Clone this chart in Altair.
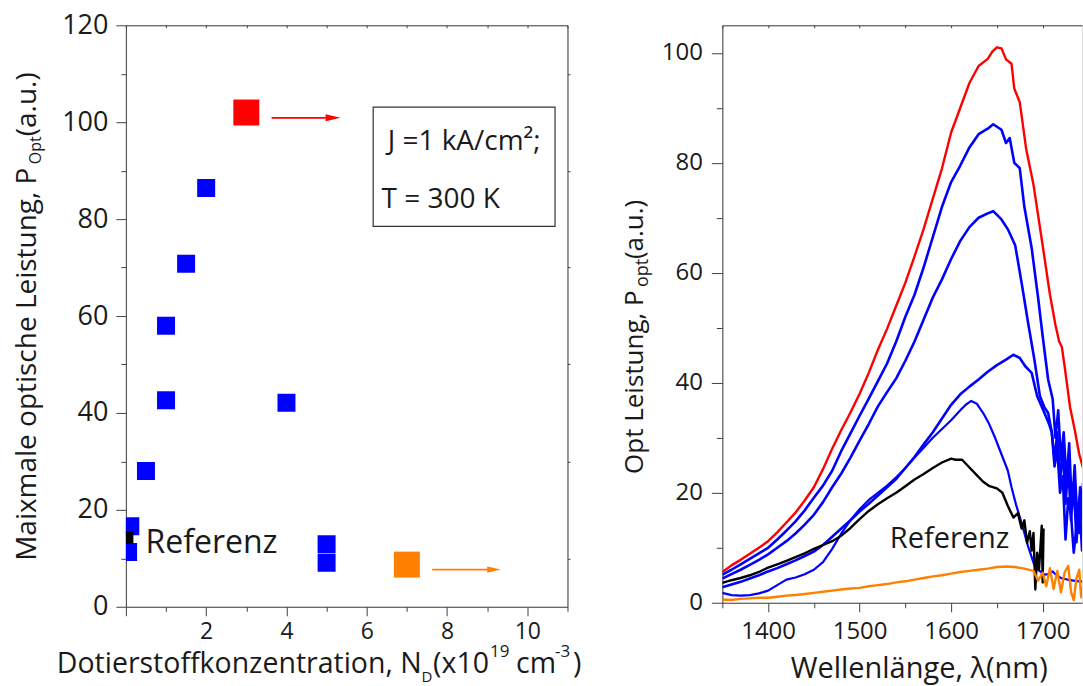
import altair as alt
import pandas as pd

# ---------------- left panel data ----------------
ND_BLUE = [0.11, 0.055, 0.5, 1.0, 1.0, 1.5, 2.0, 4.0, 5.0, 5.0]
P_BLUE = [16.6, 11.3, 28.0, 42.6, 58.0, 70.8, 86.4, 42.1, 12.9, 9.1]
ND_REF = [0.025]
P_REF = [14.3]
ND_BIG = [3.0, 7.0]
P_BIG = [102.0, 8.7]
BIG_COLOR = ["#ff0000", "#ff8000"]
ARROW_X1 = [3.63, 7.63]
ARROW_X2 = [4.98, 9.02]
ARROW_Y = [100.9, 7.67]
HEAD_X = [5.16, 9.17]
BOX_X = [6.16, 10.69]
BOX_Y = [78.5, 103.1]
BOX_TEXT = ["J =1 kA/cm²;", "T = 300 K"]
BOX_TEXT_X = [6.52, 6.37]
BOX_TEXT_Y = [94.3, 82.3]

# ---------------- right panel data ----------------
STEP10 = list(range(1350, 1650, 10))
WL_RED = STEP10 + [1645, 1650, 1655, 1660, 1666, 1669, 1675, 1682, 1690, 1700, 1708, 1714,
                   1718, 1721, 1724, 1730, 1735, 1740, 1745]
P_RED = [5.6, 6.8, 7.8, 8.9, 10.0, 11.2, 12.8, 14.6, 16.4, 18.6,
         21.0, 24.3, 28.0, 31.4, 34.6, 38.0, 41.8, 46.0, 49.8, 54.0,
         58.2, 63.0, 68.0, 73.5, 79.0, 85.5, 90.0, 94.5, 97.6, 98.9,
         100.2, 101.0, 100.8, 98.8, 98.0, 93.5, 91.0, 82.5, 76.0, 65.0,
         56.0, 50.5, 47.5, 46.5, 43.0, 35.5, 31.5, 27.0, 24.0]

WL_B1 = STEP10 + [1646, 1655, 1660, 1664, 1669, 1675, 1680, 1688, 1695, 1700, 1706, 1711,
                  1714, 1717, 1720, 1723, 1726, 1729, 1732, 1735, 1738, 1741, 1745]
P_B1 = [5.1, 6.0, 7.0, 8.0, 9.0, 10.0, 11.5, 13.1, 14.8, 16.8,
        19.1, 21.3, 24.0, 27.6, 30.8, 34.0, 37.1, 40.3, 43.5, 47.5,
        52.0, 56.0, 61.0, 66.5, 72.0, 76.5, 79.5, 82.8, 85.2, 86.2,
        87.0, 86.0, 83.6, 84.5, 80.0, 79.0, 72.0, 64.5, 55.5, 48.5, 40.6, 37.0,
        30.0, 35.0, 26.0, 31.0, 22.0, 29.0, 17.0, 25.0, 14.0, 21.0, 12.0]

WL_B2 = STEP10 + [1646, 1655, 1662, 1670, 1677, 1684, 1691, 1697, 1702, 1706, 1710, 1713,
                  1716, 1719, 1722, 1725, 1728, 1731, 1734, 1737, 1740, 1743, 1745]
P_B2 = [4.4, 5.2, 6.0, 6.9, 7.8, 8.8, 10.0, 11.2, 12.6, 14.2,
        16.0, 18.3, 21.0, 23.5, 26.4, 29.5, 32.5, 35.7, 38.3, 40.8,
        44.0, 47.5, 51.5, 55.5, 58.8, 62.5, 65.8, 68.3, 70.0, 70.8,
        71.2, 69.7, 67.9, 65.0, 58.2, 51.0, 44.2, 37.6, 35.5, 34.5, 31.0, 26.0,
        31.0, 22.0, 28.0, 18.0, 25.0, 15.0, 22.0, 11.0, 19.0, 9.5, 14.0]

WL_B3 = list(range(1350, 1670, 10)) + [1668, 1675, 1681, 1688, 1694, 1702, 1707, 1710, 1713,
                                       1716, 1719, 1722, 1725, 1728, 1731, 1734, 1737, 1740,
                                       1742, 1745]
P_B3 = [2.8, 3.3, 3.8, 4.4, 5.0, 5.7, 6.3, 7.0, 7.7, 8.5,
        9.3, 10.5, 12.0, 13.5, 15.0, 16.6, 18.0, 19.5, 21.0, 22.5,
        24.5, 26.5, 28.8, 31.0, 33.5, 36.0, 37.9, 39.3, 40.6, 42.0,
        43.2, 44.2,
        45.1, 44.5, 43.0, 41.8, 37.6, 34.5, 32.5, 31.0, 24.8, 28.0, 20.0, 23.0,
        11.5, 19.0, 16.0, 9.1, 14.0, 12.7, 18.0, 23.0]

WL_S = [1350, 1360, 1370, 1380, 1390, 1400, 1410, 1420, 1430, 1440, 1450, 1460, 1470, 1480,
        1490, 1500, 1510, 1520, 1530, 1540, 1550, 1560, 1570, 1580, 1590, 1600, 1610, 1616,
        1622, 1628, 1635, 1641, 1648, 1655, 1662, 1666, 1671, 1677, 1684, 1691, 1695, 1702,
        1707, 1711, 1715, 1720, 1730, 1740, 1745]
P_S = [1.8, 1.4, 1.3, 1.4, 1.7, 2.2, 3.2, 4.2, 4.6, 5.2, 6.0, 7.4, 9.8, 12.6,
       15.0, 17.0, 18.7, 20.0, 21.3, 22.8, 24.5, 26.4, 28.2, 30.0, 31.6, 33.2, 35.0, 36.0,
       36.7, 36.2, 34.5, 32.7, 30.0, 27.0, 24.0, 21.0, 17.8, 14.5, 10.3, 6.8, 6.0, 5.1,
       5.2, 5.7, 5.0, 4.5, 4.1, 3.9, 3.9]

WL_K = list(range(1350, 1610, 10)) + [1605, 1612, 1620, 1628, 1635, 1642, 1650, 1656, 1662,
                                      1668, 1673, 1677, 1680, 1683, 1686, 1688, 1690, 1692,
                                      1694, 1696, 1698, 1699, 1700, 1701]
P_K = [3.6, 4.1, 4.5, 5.0, 5.6, 6.4, 7.0, 7.6, 8.3, 9.0,
       9.8, 10.5, 11.2, 12.2, 13.6, 15.2, 16.7, 17.9, 19.0, 20.0,
       21.2, 22.4, 23.4, 24.5, 25.5, 26.2,
       26.0, 26.0, 24.6, 23.2, 22.0, 21.2, 20.8, 20.0, 17.6, 15.5, 16.3, 13.5, 15.0,
       10.9, 13.0, 9.5, 12.7, 2.4, 9.1, 6.0, 11.2, 14.0, 3.7, 13.5]

WL_O = list(range(1350, 1700, 10)) + [1695, 1700, 1704, 1708, 1712, 1716, 1720, 1724, 1728,
                                      1731, 1734, 1737, 1740, 1742, 1745]
P_O = [0.6, 0.5, 0.7, 0.8, 0.9, 0.9, 1.1, 1.3, 1.4, 1.6,
       1.8, 2.0, 2.2, 2.4, 2.6, 2.7, 3.0, 3.2, 3.4, 3.7,
       3.9, 4.2, 4.5, 4.8, 5.0, 5.3, 5.6, 5.8, 6.0, 6.2,
       6.5, 6.6, 6.5, 6.2, 5.8,
       4.0, 5.5, 3.0, 6.3, 2.5, 5.8, 1.9, 5.5, 6.7, 2.0, 0.5, 4.5, 6.0, 1.0, 3.9]

# ---------------- styling ----------------
FONT = "Open Sans"
AX = "#404040"
TXT = "#1a1a1a"
W1, H1 = 442, 582
W2, H2 = 360, 578
OX1, OX2, OY = 125.5, 720.5, 24.0


def ax(**kw):
    base = dict(title=None, grid=False, domainColor=AX, tickColor=AX, labelColor=TXT,
                labelFont=FONT, labelFlush=False, labelOverlap=False, domainWidth=1,
                tickWidth=1, minExtent=0)
    base.update(kw)
    return alt.Axis(**base)


def piece(text, x_abs, y_abs, size, ox, align="left", angle=0):
    return alt.Chart(alt.InlineData(values=[{"t": text}])).mark_text(
        align=align, baseline="alphabetic", font=FONT, fontSize=size, color=TXT, angle=angle
    ).encode(x=alt.value(x_abs - ox), y=alt.value(y_abs - OY), text="t:N")


# ---------------- left panel ----------------
xs1 = alt.Scale(domain=[0, 11], nice=False, zero=False)
ys1 = alt.Scale(domain=[0, 120], nice=False, zero=False)

x_major1 = ax(orient="bottom", values=[0, 2, 4, 6, 8, 10], tickSize=9, labelFontSize=23,
              labelPadding=5, labelExpr="datum.value == 0 ? '' : datum.label")
x_minor1 = ax(orient="bottom", values=[1, 3, 5, 7, 9, 11], tickSize=4.5, labels=False,
              domain=False)
x_top1 = ax(orient="bottom", offset=-H1, values=list(range(0, 12)), tickSize=2.5,
            labels=False)
y_major1 = ax(orient="left", values=list(range(0, 121, 20)), tickSize=10, labelFontSize=27,
              labelPadding=8)
y_minor1 = ax(orient="left", values=list(range(10, 120, 20)), tickSize=5, labels=False,
              domain=False)
y_right1 = ax(orient="right", values=list(range(10, 120, 20)), tickSize=2.5, labels=False)

df_blue = pd.DataFrame({"nd": ND_BLUE, "p": P_BLUE})
df_ref = pd.DataFrame({"nd": ND_REF, "p": P_REF})
df_big = pd.DataFrame({"nd": ND_BIG, "p": P_BIG, "c": BIG_COLOR})
df_arrow = pd.DataFrame({"x1": ARROW_X1, "x2": ARROW_X2, "y": ARROW_Y, "hx": HEAD_X,
                         "c": BIG_COLOR, "s": [225, 185]})
df_box = pd.DataFrame({"x1": [BOX_X[0]], "x2": [BOX_X[1]], "y1": [BOX_Y[0]], "y2": [BOX_Y[1]]})
df_box_txt = pd.DataFrame({"x": BOX_TEXT_X, "y": BOX_TEXT_Y, "t": BOX_TEXT})
df_ref_txt = pd.DataFrame({"x": [0.49], "y": [11.1], "t": ["Referenz"]})


def X1(f, axis=None):
    return alt.X(f, type="quantitative", scale=xs1, axis=axis)


def Y1(f, axis=None):
    return alt.Y(f, type="quantitative", scale=ys1, axis=axis)


box = alt.Chart(df_box).mark_rect(fill="white", stroke="#333333", strokeWidth=1.2).encode(
    x=X1("x1"), x2="x2", y=Y1("y1"), y2="y2")
box_txt = alt.Chart(df_box_txt).mark_text(align="left", baseline="alphabetic", font=FONT,
                                          fontSize=28, color=TXT).encode(
    x=X1("x"), y=Y1("y"), text="t:N")
blue_pts = alt.Chart(df_blue).mark_square(color="#0000ff", size=324, opacity=1,
                                          clip=True).encode(
    x=X1("nd", x_major1), y=Y1("p", y_major1))
minor_pts = alt.Chart(df_blue).mark_square(opacity=0).encode(
    x=X1("nd", x_minor1), y=Y1("p", y_minor1))
frame_pts = alt.Chart(df_blue).mark_square(opacity=0).encode(
    x=X1("nd", x_top1), y=Y1("p", y_right1))
ref_pt = alt.Chart(df_ref).mark_square(color="#000000", size=169, opacity=1,
                                       clip=True).encode(x=X1("nd"), y=Y1("p"))
big_pts = alt.Chart(df_big).mark_square(size=676, opacity=1).encode(
    x=X1("nd"), y=Y1("p"), color=alt.Color("c:N", scale=None))
rules = alt.Chart(df_arrow).mark_rule(strokeWidth=1.8).encode(
    x=X1("x1"), x2="x2", y=Y1("y"), color=alt.Color("c:N", scale=None))
heads = alt.Chart(df_arrow).mark_point(shape="M -1 -0.47 L 1 0 L -1 0.47 Z", filled=True,
                                       opacity=1).encode(
    x=X1("hx"), y=Y1("y"), color=alt.Color("c:N", scale=None),
    size=alt.Size("s:Q", scale=None))
ref_txt = alt.Chart(df_ref_txt).mark_text(align="left", baseline="alphabetic", font=FONT,
                                          fontSize=32, color=TXT).encode(
    x=X1("x"), y=Y1("y"), text="t:N")

left_titles = [
    piece("Dotierstoffkonzentration, N", 421.5, 672.5, 28.5, OX1, align="right"),
    piece("D", 421.5, 681.5, 15, OX1),
    piece("(x10", 433, 672.5, 28.5, OX1),
    piece("19", 490, 656, 17, OX1),
    piece("cm", 516, 672.5, 28.5, OX1),
    piece("-3", 555, 656, 17, OX1),
    piece(")", 573, 672.5, 28.5, OX1),
    piece("Maixmale optische Leistung, P", 35.7, 560, 28, OX1, angle=270),
    piece("Opt", 41, 163, 16, OX1, angle=270),
    piece("(a.u.)", 35.7, 135, 28, OX1, angle=270),
]

left = alt.layer(box, box_txt, minor_pts, frame_pts, blue_pts, ref_pt, big_pts, rules, heads,
                 ref_txt, *left_titles).resolve_axis(
    x="independent", y="independent").properties(width=W1, height=H1)

# ---------------- right panel ----------------
xs2 = alt.Scale(domain=[1350, 1743], nice=False, zero=False)
ys2 = alt.Scale(domain=[0, 105], nice=False, zero=False)

x_major2 = ax(orient="bottom", values=[1400, 1500, 1600, 1700], tickSize=9, labelFontSize=24,
              labelPadding=8, format="d")
x_minor2 = ax(orient="bottom", values=[1350, 1450, 1550, 1650], tickSize=5, labels=False,
              domain=False)
x_top2 = ax(orient="bottom", offset=-H2, values=list(range(1350, 1701, 50)), tickSize=2.5,
            labels=False)
y_major2 = ax(orient="left", values=list(range(0, 101, 20)), tickSize=11, labelFontSize=24,
              labelPadding=9)
y_minor2 = ax(orient="left", values=list(range(10, 100, 20)), tickSize=6, labels=False,
              domain=False)


def line(wl, p, color, width, xaxis=None, yaxis=None):
    df = pd.DataFrame({"wl": wl, "p": p})
    return alt.Chart(df).mark_line(color=color, strokeWidth=width, clip=True,
                                   strokeJoin="round").encode(
        x=alt.X("wl:Q", scale=xs2, axis=xaxis), y=alt.Y("p:Q", scale=ys2, axis=yaxis))


df_ref2 = pd.DataFrame({"x": [1533.0], "y": [10.0], "t": ["Referenz"]})
ref_txt2 = alt.Chart(df_ref2).mark_text(align="left", baseline="alphabetic", font=FONT,
                                        fontSize=29, color=TXT).encode(
    x=alt.X("x:Q", scale=xs2, axis=None), y=alt.Y("y:Q", scale=ys2, axis=None), text="t:N")

right_titles = [
    piece("Wellenlänge, λ(nm)", 917.5, 677, 29, OX2, align="center"),
    piece("Opt Leistung, P", 641, 473, 26, OX2, angle=270),
    piece("opt", 646.5, 286, 18, OX2, angle=270),
    piece("(a.u.)", 641, 258, 26, OX2, angle=270),
]

right = alt.layer(
    line(WL_RED, P_RED, "#ff0000", 2.4, x_major2, y_major2),
    line(WL_B1, P_B1, "#0000ff", 2.6, x_minor2, y_minor2),
    line(WL_B2, P_B2, "#0000ff", 2.6, x_top2),
    line(WL_B3, P_B3, "#0000ff", 2.6),
    line(WL_S, P_S, "#0000ff", 2.2),
    line(WL_K, P_K, "#000000", 2.4),
    line(WL_O, P_O, "#ff8000", 2.4),
    ref_txt2,
    *right_titles,
).resolve_axis(x="independent", y="independent").properties(width=W2, height=H2)

chart = alt.hconcat(left, right, spacing=39).properties(
    padding={"left": 13, "top": 10, "right": 0, "bottom": 0}
).configure_view(stroke="transparent").configure(font=FONT)

chart.save("out.html", embed_options={"renderer": "svg", "actions": False})
